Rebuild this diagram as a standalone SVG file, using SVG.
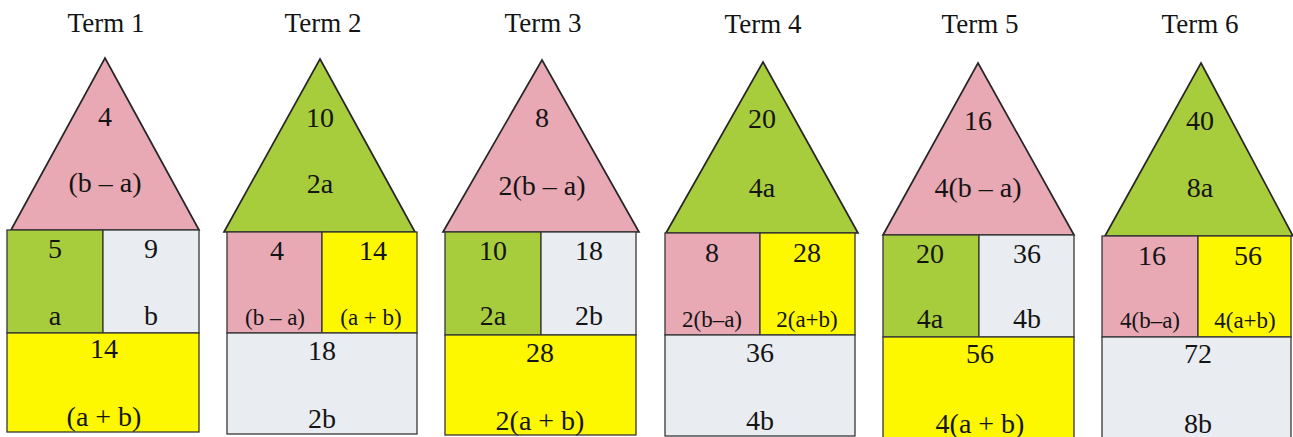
<svg xmlns="http://www.w3.org/2000/svg" width="1293" height="437" viewBox="0 0 1293 437" font-family="'Liberation Serif', 'Times New Roman', 'DejaVu Serif', serif">
<style>
text{font-family:'Liberation Serif','Times New Roman','DejaVu Serif',serif;fill:#141414;text-anchor:middle}
.t{font-size:27px}
.m{font-size:28px}
.s{font-size:23px}
.pink{fill:#e8a8b4}
.green{fill:#a8cd3c}
.yellow{fill:#fdf800}
.light{fill:#e9edf1}
.roof{stroke:#262626;stroke-width:1.7;stroke-linejoin:miter}
.box{stroke:#363636;stroke-width:1.3}
</style>
<rect width="1293" height="437" fill="#ffffff"/>

<g id="term1">
<text class="t" x="106" y="32">Term 1</text>
<polygon class="roof pink" points="105,58 199,230 11,230"/>
<rect class="box green" x="7" y="230" width="96" height="103"/>
<rect class="box light" x="103" y="230" width="96" height="103"/>
<rect class="box yellow" x="7" y="333" width="192" height="99"/>
<text class="m" x="105" y="126">4</text>
<text class="m" x="105" y="192">(b – a)</text>
<text class="m" x="55" y="258">5</text>
<text class="m" x="55" y="325">a</text>
<text class="m" x="151" y="258">9</text>
<text class="m" x="151" y="325">b</text>
<text class="m" x="104" y="358">14</text>
<text class="m" x="104" y="426">(a + b)</text>
</g>

<g id="term2">
<text class="t" x="323" y="32">Term 2</text>
<polygon class="roof green" points="320,59 415,232 224,232"/>
<rect class="box pink" x="227" y="232" width="95" height="101"/>
<rect class="box yellow" x="322" y="232" width="95" height="101"/>
<rect class="box light" x="227" y="333" width="190" height="101"/>
<text class="m" x="320" y="127">10</text>
<text class="m" x="320" y="193">2a</text>
<text class="m" x="277" y="260">4</text>
<text class="s" x="275" y="325">(b – a)</text>
<text class="m" x="373" y="260">14</text>
<text class="s" x="371" y="325">(a + b)</text>
<text class="m" x="322" y="360">18</text>
<text class="m" x="322" y="428">2b</text>
</g>

<g id="term3">
<text class="t" x="543" y="32">Term 3</text>
<polygon class="roof pink" points="542,60 639,232 443,232"/>
<rect class="box green" x="445" y="232" width="96" height="103"/>
<rect class="box light" x="541" y="232" width="95" height="103"/>
<rect class="box yellow" x="445" y="335" width="191" height="100"/>
<text class="m" x="542" y="127">8</text>
<text class="m" x="542" y="195">2(b – a)</text>
<text class="m" x="493" y="260">10</text>
<text class="m" x="493" y="325">2a</text>
<text class="m" x="589" y="260">18</text>
<text class="m" x="589" y="325">2b</text>
<text class="m" x="540" y="362">28</text>
<text class="m" x="540" y="430">2(a + b)</text>
</g>

<g id="term4">
<text class="t" x="763" y="33">Term 4</text>
<polygon class="roof green" points="763,62 858,233 666,233"/>
<rect class="box pink" x="665" y="233" width="95" height="102"/>
<rect class="box yellow" x="760" y="233" width="95" height="102"/>
<rect class="box light" x="665" y="335" width="190" height="101"/>
<text class="m" x="762" y="128">20</text>
<text class="m" x="762" y="197">4a</text>
<text class="m" x="712" y="262">8</text>
<text class="s" x="712" y="327">2(b–a)</text>
<text class="m" x="807" y="262">28</text>
<text class="s" x="807" y="327">2(a+b)</text>
<text class="m" x="760" y="362">36</text>
<text class="m" x="760" y="430">4b</text>
</g>

<g id="term5">
<text class="t" x="980" y="33">Term 5</text>
<polygon class="roof pink" points="978,63 1074,235 883,235"/>
<rect class="box green" x="883" y="235" width="96" height="102"/>
<rect class="box light" x="979" y="235" width="95" height="102"/>
<rect class="box yellow" x="883" y="337" width="191" height="103"/>
<text class="m" x="978" y="130">16</text>
<text class="m" x="978" y="197">4(b – a)</text>
<text class="m" x="930" y="263">20</text>
<text class="m" x="930" y="328">4a</text>
<text class="m" x="1027" y="263">36</text>
<text class="m" x="1027" y="328">4b</text>
<text class="m" x="980" y="363">56</text>
<text class="m" x="980" y="433">4(a + b)</text>
</g>

<g id="term6">
<text class="t" x="1200" y="33">Term 6</text>
<polygon class="roof green" points="1201,63 1293,236 1105,236"/>
<rect class="box pink" x="1102" y="236" width="96" height="101"/>
<rect class="box yellow" x="1198" y="236" width="93" height="101"/>
<rect class="box light" x="1102" y="337" width="189" height="103"/>
<text class="m" x="1200" y="130">40</text>
<text class="m" x="1200" y="197">8a</text>
<text class="m" x="1152" y="265">16</text>
<text class="s" x="1150" y="328">4(b–a)</text>
<text class="m" x="1248" y="265">56</text>
<text class="s" x="1245" y="328">4(a+b)</text>
<text class="m" x="1198" y="363">72</text>
<text class="m" x="1198" y="433">8b</text>
</g>
</svg>
